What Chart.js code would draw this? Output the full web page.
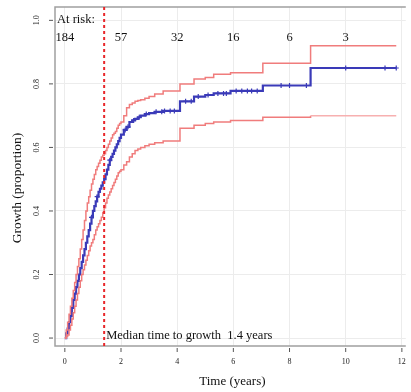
<!DOCTYPE html>
<html>
<head>
<meta charset="utf-8">
<script src="https://cdn.jsdelivr.net/npm/chart.js@4/dist/chart.umd.min.js"></script>
<style>
  html, body { margin: 0; padding: 0; background: #ffffff; }
  #wrap { width: 411px; height: 392px; position: relative; }
</style>
</head>
<body>
<div id="wrap"><canvas id="c" width="411" height="392"></canvas></div>
<script>
// ---- Data (time in years, proportion grown) ----
const eventTimes = [0, 0.05, 0.1, 0.15, 0.2, 0.25, 0.3, 0.35, 0.4, 0.45, 0.5, 0.55, 0.6, 0.65, 0.7, 0.75, 0.8, 0.85, 0.9, 0.95, 1.0, 1.05, 1.1, 1.15, 1.2, 1.25, 1.3, 1.35, 1.4, 1.45, 1.5, 1.55, 1.6, 1.65, 1.7, 1.75, 1.8, 1.85, 1.9, 1.95, 2.0, 2.1, 2.2, 2.3, 2.4, 2.5, 2.6, 2.7, 2.85, 3.0, 3.2, 3.5, 4.1, 4.6, 5.0, 5.3, 5.9, 7.05, 8.75, 11.8];
const kmEstimate = [0, 0.015, 0.03, 0.05, 0.07, 0.095, 0.12, 0.14, 0.16, 0.18, 0.20, 0.22, 0.24, 0.26, 0.28, 0.30, 0.32, 0.34, 0.36, 0.38, 0.40, 0.415, 0.43, 0.445, 0.46, 0.47, 0.48, 0.49, 0.50, 0.515, 0.53, 0.545, 0.56, 0.57, 0.58, 0.59, 0.60, 0.61, 0.62, 0.63, 0.64, 0.655, 0.665, 0.68, 0.685, 0.69, 0.695, 0.70, 0.705, 0.708, 0.712, 0.715, 0.745, 0.76, 0.765, 0.77, 0.778, 0.795, 0.85, 0.85];
const upperCI = [0, 0.025, 0.05, 0.075, 0.10, 0.125, 0.15, 0.175, 0.20, 0.225, 0.25, 0.28, 0.31, 0.34, 0.37, 0.40, 0.425, 0.445, 0.465, 0.485, 0.50, 0.515, 0.53, 0.54, 0.55, 0.56, 0.57, 0.575, 0.58, 0.59, 0.60, 0.61, 0.62, 0.63, 0.64, 0.645, 0.65, 0.66, 0.67, 0.675, 0.68, 0.70, 0.725, 0.735, 0.74, 0.745, 0.748, 0.75, 0.755, 0.76, 0.768, 0.778, 0.80, 0.815, 0.82, 0.83, 0.835, 0.865, 0.92, 0.92];
const lowerCI = [0, 0.005, 0.01, 0.025, 0.04, 0.06, 0.08, 0.10, 0.12, 0.14, 0.16, 0.18, 0.20, 0.215, 0.23, 0.245, 0.26, 0.275, 0.29, 0.30, 0.31, 0.325, 0.34, 0.35, 0.36, 0.37, 0.38, 0.395, 0.41, 0.425, 0.44, 0.45, 0.46, 0.47, 0.48, 0.49, 0.50, 0.51, 0.52, 0.525, 0.53, 0.545, 0.555, 0.57, 0.58, 0.59, 0.595, 0.60, 0.605, 0.61, 0.615, 0.62, 0.66, 0.67, 0.675, 0.68, 0.685, 0.695, 0.70, 0.70];
const censorTimes = [0.95, 1.15, 1.6, 2.15, 2.25, 2.45, 2.65, 2.9, 3.25, 3.45, 3.55, 3.75, 3.9, 4.3, 4.5, 4.75, 5.1, 5.45, 5.65, 5.75, 6.1, 6.3, 6.5, 6.65, 6.85, 7.7, 8.0, 8.6, 10.0, 11.4, 11.8];
const atRiskTimes = [0, 2, 4, 6, 8, 10];
const atRiskCounts = ["184", "57", "32", "16", "6", "3"];
const medianTime = 1.4;
const xTickValues = [0, 2, 4, 6, 8, 10, 12];
const yTickValues = [0, 0.2, 0.4, 0.6, 0.8, 1.0];
const yTickLabels = ["0.0", "0.2", "0.4", "0.6", "0.8", "1.0"];

// KM value at a censoring time
function kmAt(t) {
  let v = 0;
  for (let i = 0; i < eventTimes.length; i++) { if (eventTimes[i] <= t) v = kmEstimate[i]; }
  return v;
}
const toXY = (xs, ys) => xs.map((x, i) => ({ x: x, y: ys[i] }));

const FONT = '"Liberation Serif", "DejaVu Serif", serif';

const decor = {
  id: 'decor',
  afterDraw(chart) {
    const ctx = chart.ctx, xs = chart.scales.x, ys = chart.scales.y, ca = chart.chartArea;
    ctx.save();
    ctx.strokeStyle = '#a0a0a0';
    ctx.lineWidth = 1.5;
    ctx.beginPath();
    ctx.moveTo(ca.right, ca.top); ctx.lineTo(ca.left, ca.top);
    ctx.lineTo(ca.left, ca.bottom); ctx.lineTo(ca.right, ca.bottom);
    ctx.stroke();
    ctx.strokeStyle = '#555';
    ctx.lineWidth = 1;
    ctx.fillStyle = '#222';
    ctx.font = '8px ' + FONT;
    ctx.textAlign = 'center';
    ctx.textBaseline = 'middle';
    yTickValues.forEach((v, i) => {
      const y = ys.getPixelForValue(v);
      ctx.beginPath(); ctx.moveTo(ca.left - 6, y); ctx.lineTo(ca.left - 2, y); ctx.stroke();
      ctx.save(); ctx.translate(37, y); ctx.rotate(-Math.PI / 2);
      ctx.fillText(yTickLabels[i], 0, 0); ctx.restore();
    });
    xTickValues.forEach(v => {
      const x = xs.getPixelForValue(v);
      ctx.beginPath(); ctx.moveTo(x, ca.bottom + 2); ctx.lineTo(x, ca.bottom + 6); ctx.stroke();
      ctx.fillText(String(v), x, ca.bottom + 16);
    });
    ctx.fillStyle = '#111';
    ctx.font = '13px ' + FONT;
    ctx.fillText('Time (years)', (ca.left + ca.right) / 2 + 2, 382);
    ctx.font = '13.5px ' + FONT;
    ctx.save(); ctx.translate(17, 188); ctx.rotate(-Math.PI / 2);
    ctx.fillText('Growth (proportion)', 0, 0); ctx.restore();
    const mx = xs.getPixelForValue(medianTime);
    ctx.strokeStyle = '#e8262a';
    ctx.lineWidth = 2;
    ctx.setLineDash([3, 3]);
    ctx.beginPath(); ctx.moveTo(mx, ca.top); ctx.lineTo(mx, ca.bottom); ctx.stroke();
    ctx.setLineDash([]);
    ctx.font = '12.5px ' + FONT;
    ctx.fillStyle = '#111';
    ctx.textAlign = 'left';
    ctx.fillText('At risk:', ca.left + 2, 20);
    ctx.textAlign = 'center';
    atRiskTimes.forEach((t, i) => {
      ctx.fillText(atRiskCounts[i], xs.getPixelForValue(t), 38);
    });
    ctx.textAlign = 'left';
    ctx.fillText('Median time to growth  ' + medianTime + ' years', mx + 2, 336);
    ctx.restore();
  }
};

new Chart(document.getElementById('c'), {
  type: 'line',
  data: {
    datasets: [
      {
        label: 'Upper 95% CI',
        data: toXY(eventTimes, upperCI),
        stepped: 'before',
        borderColor: '#f07c7c',
        borderWidth: 1.5,
        pointRadius: 0,
        fill: false
      },
      {
        label: 'Lower 95% CI',
        data: toXY(eventTimes, lowerCI),
        stepped: 'before',
        borderColor: '#f07c7c',
        borderWidth: 1.5,
        pointRadius: 0,
        fill: false,
        segment: { borderColor: c => (c.p0.parsed.x >= 8.7 ? '#f7b0b0' : undefined) }
      },
      {
        label: 'Kaplan-Meier',
        data: toXY(eventTimes, kmEstimate),
        stepped: 'before',
        borderColor: '#3a3ab8',
        borderWidth: 2.2,
        pointRadius: 0,
        fill: false
      },
      {
        label: 'Censored',
        type: 'scatter',
        data: censorTimes.map(t => ({ x: t, y: kmAt(t) })),
        pointStyle: 'cross',
        pointRadius: 2.5,
        borderColor: '#3a3ab8',
        borderWidth: 1.2,
        showLine: false
      }
    ]
  },
  options: {
    responsive: false,
    animation: false,
    devicePixelRatio: 1,
    layout: { padding: { left: 55, top: 7, right: 0, bottom: 46 } },
    plugins: { legend: { display: false }, tooltip: { enabled: false } },
    scales: {
      x: {
        type: 'linear',
        min: -0.35,
        max: 12.14,
        afterBuildTicks: s => { s.ticks = xTickValues.map(v => ({ value: v })); },
        ticks: { display: false },
        grid: { color: '#ececec', lineWidth: 1, drawTicks: false },
        border: { display: false }
      },
      y: {
        type: 'linear',
        min: -0.025,
        max: 1.042,
        afterBuildTicks: s => { s.ticks = yTickValues.map(v => ({ value: v })); },
        ticks: { display: false },
        grid: { color: '#ececec', lineWidth: 1, drawTicks: false },
        border: { display: false }
      }
    }
  },
  plugins: [decor]
});
</script>
</body>
</html>
